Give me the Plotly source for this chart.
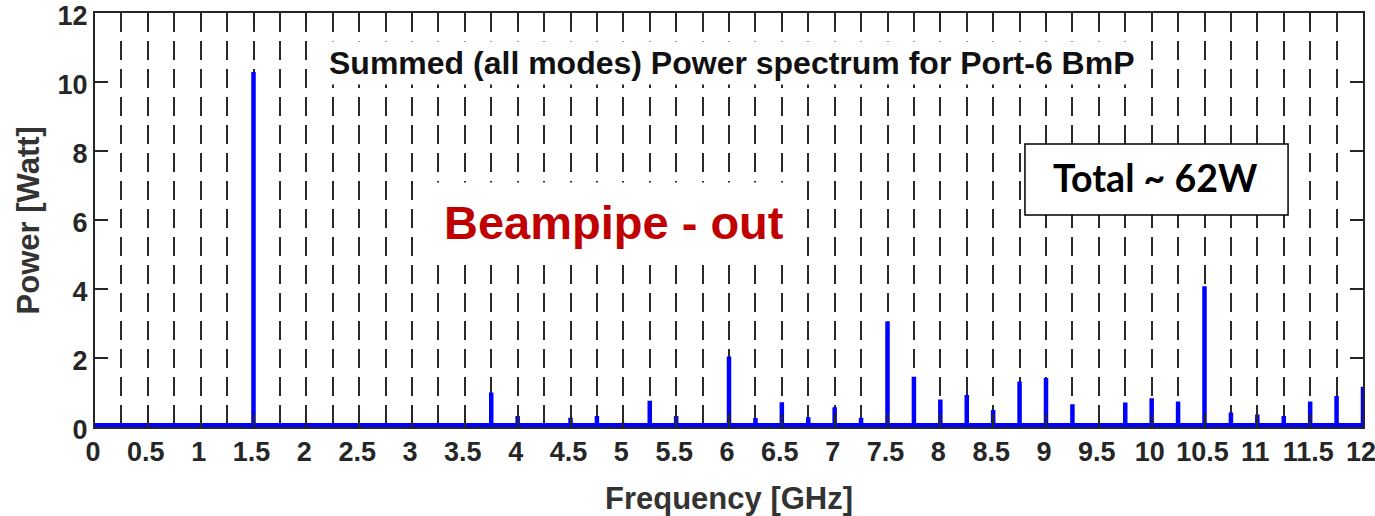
import plotly.graph_objects as go

# ---- data ----
baseline_power = 0.05
spike_freq_ghz = [1.5, 3.75, 4.0, 4.5, 4.75, 5.0, 5.25, 5.5, 6.0, 6.25, 6.5, 6.75,
                  7.0, 7.25, 7.5, 7.75, 8.0, 8.25, 8.5, 8.75, 9.0, 9.25, 9.75,
                  10.0, 10.25, 10.5, 10.75, 11.0, 11.25, 11.5, 11.75, 12.0]
spike_power_w = [10.29, 1.0, 0.32, 0.27, 0.32, 0.12, 0.76, 0.32, 2.04, 0.26, 0.72, 0.28,
                 0.57, 0.27, 3.06, 1.46, 0.8, 0.93, 0.49, 1.32, 1.42, 0.66, 0.71,
                 0.83, 0.74, 4.08, 0.42, 0.36, 0.32, 0.74, 0.9, 1.17]
x_tick_vals = [0, 0.5, 1, 1.5, 2, 2.5, 3, 3.5, 4, 4.5, 5, 5.5, 6, 6.5, 7, 7.5,
               8, 8.5, 9, 9.5, 10, 10.5, 11, 11.5, 12]
x_tick_text = ["0", "0.5", "1", "1.5", "2", "2.5", "3", "3.5", "4", "4.5", "5", "5.5",
               "6", "6.5", "7", "7.5", "8", "8.5", "9", "9.5", "10", "10.5", "11",
               "11.5", "12"]
y_tick_vals = [0, 2, 4, 6, 8, 10, 12]
x_range = [0, 12]
y_range = [0, 12]

# build the spectrum line from the arrays
xs = [0]
ys = [baseline_power]
for f, p in zip(spike_freq_ghz, spike_power_w):
    xs += [f, f, f]
    ys += [baseline_power, p, baseline_power]

fig = go.Figure()
fig.add_trace(go.Scatter(x=xs, y=ys, mode="lines",
                         line=dict(color="#0000FF", width=4.5),
                         showlegend=False, hoverinfo="skip"))

tick_font = dict(family="Liberation Sans, Arial, sans-serif", size=27,
                 color="#262626", weight="bold")
grid_col = "#2a2a2a"

fig.update_xaxes(range=x_range, tickvals=x_tick_vals, ticktext=x_tick_text,
                 tickfont=tick_font, ticks="inside", ticklen=13, tickwidth=1.5,
                 tickcolor="#262626", ticklabeloverflow="allow", automargin=False,
                 ticklabelshift=-2,
                 showline=True, linecolor="#262626", linewidth=2, mirror="ticks",
                 showgrid=True, gridcolor=grid_col, gridwidth=2,
                 griddash="19px,9px",
                 minor=dict(dtick=0.25, tick0=0, showgrid=True, gridcolor=grid_col,
                            gridwidth=2, griddash="19px,9px"),
                 zeroline=False, fixedrange=True)
fig.update_yaxes(range=y_range, tickvals=y_tick_vals, tickfont=tick_font,
                 ticks="inside", ticklen=13, tickwidth=1.5, tickcolor="#262626",
                 ticklabeloverflow="allow", automargin=False, ticklabelshift=3,
                 showline=True, linecolor="#262626", linewidth=2, mirror="ticks",
                 showgrid=False, zeroline=False, fixedrange=True)

title_font = dict(family="Liberation Sans, Arial, sans-serif", size=31,
                  color="#333333", weight="bold")

annotations = [
    # axis titles
    dict(text="Frequency [GHz]", x=0.5, xref="paper", y=-0.172, yref="paper",
         xanchor="center", yanchor="middle", showarrow=False, font=title_font),
    dict(text="Power [Watt]", x=-0.0525, xref="paper", y=0.5, yref="paper",
         xanchor="center", yanchor="middle", showarrow=False, textangle=-90,
         font=title_font),
    # in-plot title
    dict(text="Summed (all modes) Power spectrum for Port-6 BmP", x=0.502, xref="paper",
         y=0.879, yref="paper", xanchor="center", yanchor="middle", showarrow=False,
         bgcolor="white", borderpad=3,
         font=dict(family="Liberation Sans, Arial, sans-serif", size=32,
                   color="#111111", weight="bold")),
    dict(text="Beampipe - out", x=0.4095, xref="paper", y=0.495, yref="paper",
         xanchor="center", yanchor="middle", showarrow=False, bgcolor="white",
         borderpad=13,
         font=dict(family="Liberation Sans, Arial, sans-serif", size=47,
                   color="#C00000", weight="bold")),
    dict(text="Total ~ 62W", x=0.836, xref="paper", y=0.602, yref="paper",
         xanchor="center", yanchor="middle", showarrow=False,
         font=dict(family="Lato, sans-serif", size=37.5, color="black", weight="bold")),
]

fig.add_shape(type="rect", xref="paper", yref="paper",
              x0=0.7334, x1=0.9409, y0=0.5121, y1=0.6836,
              line=dict(color="black", width=1.5), fillcolor="white", layer="above")

fig.update_layout(width=1375, height=516,
                  margin=dict(l=95, r=12, t=13, b=89, pad=0, autoexpand=False),
                  paper_bgcolor="white", plot_bgcolor="white",
                  annotations=annotations)

fig.write_html("out.html", config={"displayModeBar": False})
